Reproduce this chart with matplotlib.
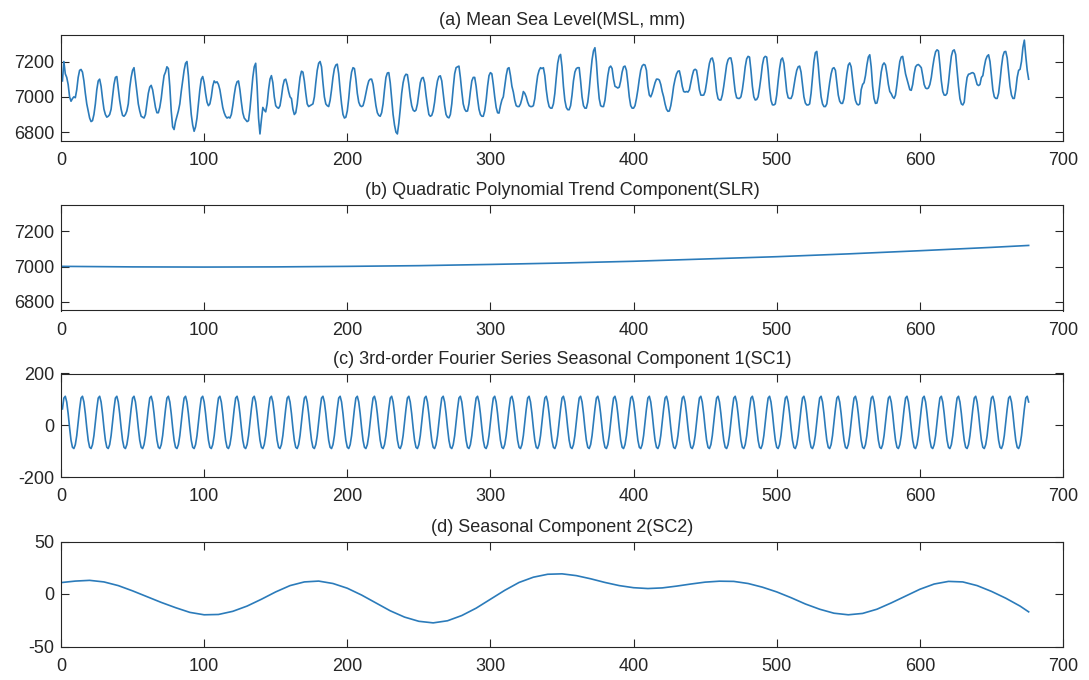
import matplotlib
matplotlib.use("Agg")
import matplotlib.pyplot as plt
import numpy as np

plt.rcParams['font.family'] = ['Liberation Sans', 'DejaVu Sans']
plt.rcParams['axes.unicode_minus'] = False

# (a) monthly mean sea level, mm (one row per 12 months)
msl = [
    7090, 7200, 7130, 7110, 7070, 7000, 6975, 6990, 7000, 6995, 7040, 7110,
    7150, 7155, 7140, 7090, 7020, 6960, 6920, 6880, 6860, 6865, 6900, 6960,
    7040, 7090, 7100, 7060, 6990, 6930, 6900, 6885, 6890, 6900, 6930, 7000,
    7070, 7110, 7115, 7050, 6980, 6930, 6895, 6890, 6900, 6920, 6960, 7050,
    7110, 7150, 7165, 7100, 7030, 6960, 6920, 6890, 6885, 6880, 6900, 6960,
    7020, 7055, 7065, 7040, 6990, 6940, 6910, 6910, 6940, 6990, 7060, 7120,
    7140, 7170, 7160, 7060, 6920, 6830, 6815, 6860, 6890, 6920, 6960, 7030,
    7090, 7150, 7190, 7200, 7120, 7000, 6900, 6840, 6805, 6830, 6880, 6960,
    7040, 7100, 7115, 7080, 7020, 6970, 6950, 6960, 7000, 7060, 7090, 7080,
    7085, 7070, 7040, 6990, 6940, 6910, 6890, 6880, 6885, 6880, 6900, 6950,
    7010, 7060, 7085, 7090, 7040, 6970, 6910, 6880, 6870, 6860, 6865, 6930,
    7020, 7110, 7170, 7190, 7060, 6880, 6790, 6870, 6940, 6925, 6915, 6960,
    7040, 7100, 7120, 7080, 7000, 6950, 6940, 6935, 6950, 7000, 7060, 7095,
    7100, 7070, 7030, 7000, 6990, 6930, 6900, 6910, 6960, 7040, 7110, 7145,
    7140, 7090, 7020, 6960, 6945, 6950, 6955, 6960, 7000, 7080, 7150, 7190,
    7200, 7170, 7080, 7000, 6960, 6950, 6945, 6980, 7040, 7110, 7160, 7180,
    7185, 7130, 7040, 6960, 6900, 6880, 6885, 6920, 6990, 7080, 7140, 7165,
    7160, 7100, 7020, 6970, 6950, 6945, 6950, 6980, 7020, 7060, 7090, 7100,
    7100, 7070, 7010, 6950, 6910, 6895, 6890, 6910, 6960, 7040, 7110, 7135,
    7137, 7080, 6990, 6900, 6840, 6800, 6790, 6850, 6930, 7020, 7080, 7115,
    7128, 7125, 7070, 7000, 6950, 6925, 6918, 6925, 6960, 7020, 7080, 7105,
    7110, 7080, 7010, 6950, 6900, 6890, 6895, 6920, 6970, 7040, 7090, 7115,
    7119, 7090, 7020, 6950, 6900, 6885, 6881, 6900, 6960, 7050, 7130, 7165,
    7170, 7174, 7110, 7030, 6960, 6930, 6918, 6920, 6960, 7030, 7090, 7110,
    7110, 7060, 6990, 6930, 6900, 6890, 6890, 6920, 6980, 7060, 7120, 7137,
    7130, 7070, 7000, 6940, 6910, 6908, 6950, 6982, 7000, 7060, 7120, 7160,
    7165, 7120, 7060, 7027, 6980, 6950, 6945, 6945, 6960, 6990, 7030, 7020,
    7000, 6970, 6950, 6945, 6945, 6950, 6990, 7060, 7120, 7150, 7165, 7160,
    7165, 7120, 7040, 6980, 6945, 6936, 6936, 6960, 7020, 7110, 7190, 7230,
    7240, 7170, 7060, 6980, 6940, 6927, 6927, 6950, 7010, 7090, 7140, 7160,
    7165, 7165, 7090, 7000, 6950, 6936, 6936, 6970, 7040, 7130, 7210, 7260,
    7278, 7200, 7080, 6990, 6950, 6945, 6945, 6980, 7050, 7120, 7165, 7174,
    7160, 7100, 7060, 7055, 7050, 7055, 7090, 7140, 7170, 7174, 7150, 7080,
    7000, 6950, 6936, 6936, 6950, 6990, 7040, 7100, 7150, 7175, 7183, 7180,
    7150, 7060, 7010, 7000, 7020, 7050, 7080, 7100, 7100, 7095, 7070, 7030,
    7000, 6960, 6930, 6918, 6920, 6950, 7000, 7060, 7100, 7130, 7145, 7147,
    7110, 7060, 7030, 7027, 7030, 7027, 7040, 7080, 7120, 7150, 7156, 7150,
    7100, 7040, 7010, 7009, 7010, 7030, 7080, 7140, 7190, 7215, 7220, 7190,
    7110, 7030, 6990, 6982, 6982, 7010, 7060, 7120, 7180, 7210, 7220, 7220,
    7180, 7100, 7030, 6995, 6991, 6991, 7000, 7040, 7100, 7170, 7215, 7229,
    7225, 7150, 7060, 7000, 6982, 6985, 7000, 7050, 7110, 7180, 7220, 7229,
    7225, 7150, 7050, 6980, 6955, 6954, 6960, 7010, 7090, 7160, 7210, 7220,
    7190, 7110, 7030, 6995, 6991, 6991, 7010, 7060, 7110, 7150, 7170, 7174,
    7140, 7070, 7000, 6965, 6954, 6954, 6960, 7020, 7110, 7200, 7250, 7257,
    7180, 7080, 7000, 6960, 6945, 6945, 6960, 7020, 7080, 7130, 7160, 7165,
    7150, 7080, 7010, 6975, 6963, 6963, 6990, 7060, 7130, 7180, 7192, 7170,
    7100, 7030, 6980, 6960, 6954, 6960, 7040, 7070, 7080, 7120, 7180, 7225,
    7238, 7170, 7060, 6990, 6963, 6965, 7000, 7070, 7140, 7180, 7192, 7180,
    7130, 7070, 7030, 7018, 7000, 6991, 7010, 7070, 7140, 7200, 7225, 7229,
    7180, 7130, 7100, 7070, 7040, 7037, 7070, 7130, 7170, 7180, 7183, 7175,
    7165, 7120, 7070, 7050, 7046, 7050, 7070, 7110, 7170, 7220, 7255, 7266,
    7260, 7180, 7090, 7030, 7010, 7009, 7020, 7080, 7160, 7230, 7260, 7266,
    7240, 7150, 7060, 6990, 6960, 6954, 6970, 7050, 7110, 7128, 7130, 7135,
    7137, 7130, 7100, 7070, 7064, 7070, 7110, 7120, 7170, 7210, 7230, 7238,
    7200, 7120, 7040, 7000, 6991, 6991, 7020, 7090, 7170, 7230, 7255, 7257,
    7220, 7140, 7060, 7010, 6991, 6991, 7040, 7110, 7150, 7156, 7200, 7280,
    7321, 7230, 7150, 7100,
]

# (b) quadratic trend, sampled months
trend_month = [1, 50, 100, 150, 200, 250, 300, 350, 400, 450, 500, 550, 600, 650, 676]
trend_value = [7001, 6998, 6997, 6998, 7001, 7005, 7012, 7020, 7030, 7043, 7056, 7072,
               7090, 7109, 7120]

# (c) one year of the seasonal component 1 (months 1..12), repeats every year
sc1_year = [63, 105, 112, 90, 45, -10, -58, -85, -90, -75, -40, 10]

# (d) seasonal component 2, sampled months
sc2_month = [1, 10, 20, 30, 40, 50, 60, 70, 80, 90, 100, 110, 120, 130, 140, 150, 160,
             170, 180, 190, 200, 210, 220, 230, 240, 250, 260, 270, 280, 290, 300, 310,
             320, 330, 340, 350, 360, 370, 380, 390, 400, 410, 420, 430, 440, 450, 460,
             470, 480, 490, 500, 510, 520, 530, 540, 550, 560, 570, 580, 590, 600, 610,
             620, 630, 640, 650, 660, 670, 676]
sc2_value = [11, 12.3, 13, 11.5, 8, 3, -2.5, -8, -13, -17.5, -19.8, -19.5, -16.5, -11.5,
             -5, 2, 8, 11.5, 12.3, 10, 5.5, -1, -8.5, -16, -22, -26, -27.5, -25.5,
             -20.5, -13.5, -5, 3.5, 11, 16, 18.8, 19.2, 17.5, 14.5, 11, 8, 6, 5.2, 5.8,
             7.5, 9.5, 11.3, 12.2, 12, 10, 6.5, 2, -3.5, -9.5, -14.5, -18.3, -19.8,
             -18.5, -14.5, -8.5, -2, 4.5, 9.5, 12, 11.5, 8, 2.5, -4, -11.5, -17]

titles = ["(a) Mean Sea Level(MSL, mm)",
          "(b) Quadratic Polynomial Trend Component(SLR)",
          "(c) 3rd-order Fourier Series Seasonal Component 1(SC1)",
          "(d) Seasonal Component 2(SC2)"]

months = np.arange(1, len(msl) + 1)
sc1 = np.resize(sc1_year, len(msl))

line_color = '#2b7bba'
ink = '#262626'

fig = plt.figure(figsize=(10.89, 6.80), dpi=100)
W, H = 1089, 680
# axes boxes in pixels: top, bottom
boxes = [(35, 141), (205, 310.5), (373.5, 477), (541.5, 646.5)]
left_px, right_px = 61, 1063

axs = []
for top, bot in boxes:
    ax = fig.add_axes([left_px / W, 1 - bot / H, (right_px - left_px) / W, (bot - top) / H])
    axs.append(ax)

axs[0].plot(months, msl, color=line_color, lw=1.2)
axs[1].plot(trend_month, trend_value, color=line_color, lw=1.2)
axs[2].plot(months, sc1, color=line_color, lw=1.2)
axs[3].plot(sc2_month, sc2_value, color=line_color, lw=1.2)

ylims = [(6750, 7350), (6750, 7350), (-200, 200), (-50, 50)]
yticks = [[6800, 7000, 7200], [6800, 7000, 7200], [-200, 0, 200], [-50, 0, 50]]

for ax, title, yl, yt in zip(axs, titles, ylims, yticks):
    ax.set_xlim(0, 700)
    ax.set_ylim(*yl)
    ax.set_xticks(range(0, 701, 100))
    ax.set_yticks(yt)
    ax.tick_params(direction='in', length=6, width=0.8, colors=ink, labelsize=13,
                   top=True, right=True)
    ax.tick_params(axis='x', pad=8)
    ax.tick_params(axis='y', pad=5)
    for s in ax.spines.values():
        s.set_color(ink)
        s.set_linewidth(0.8)
    ax.set_title(title, fontsize=13, color=ink, pad=7)

fig.savefig("out.png", dpi=100)
